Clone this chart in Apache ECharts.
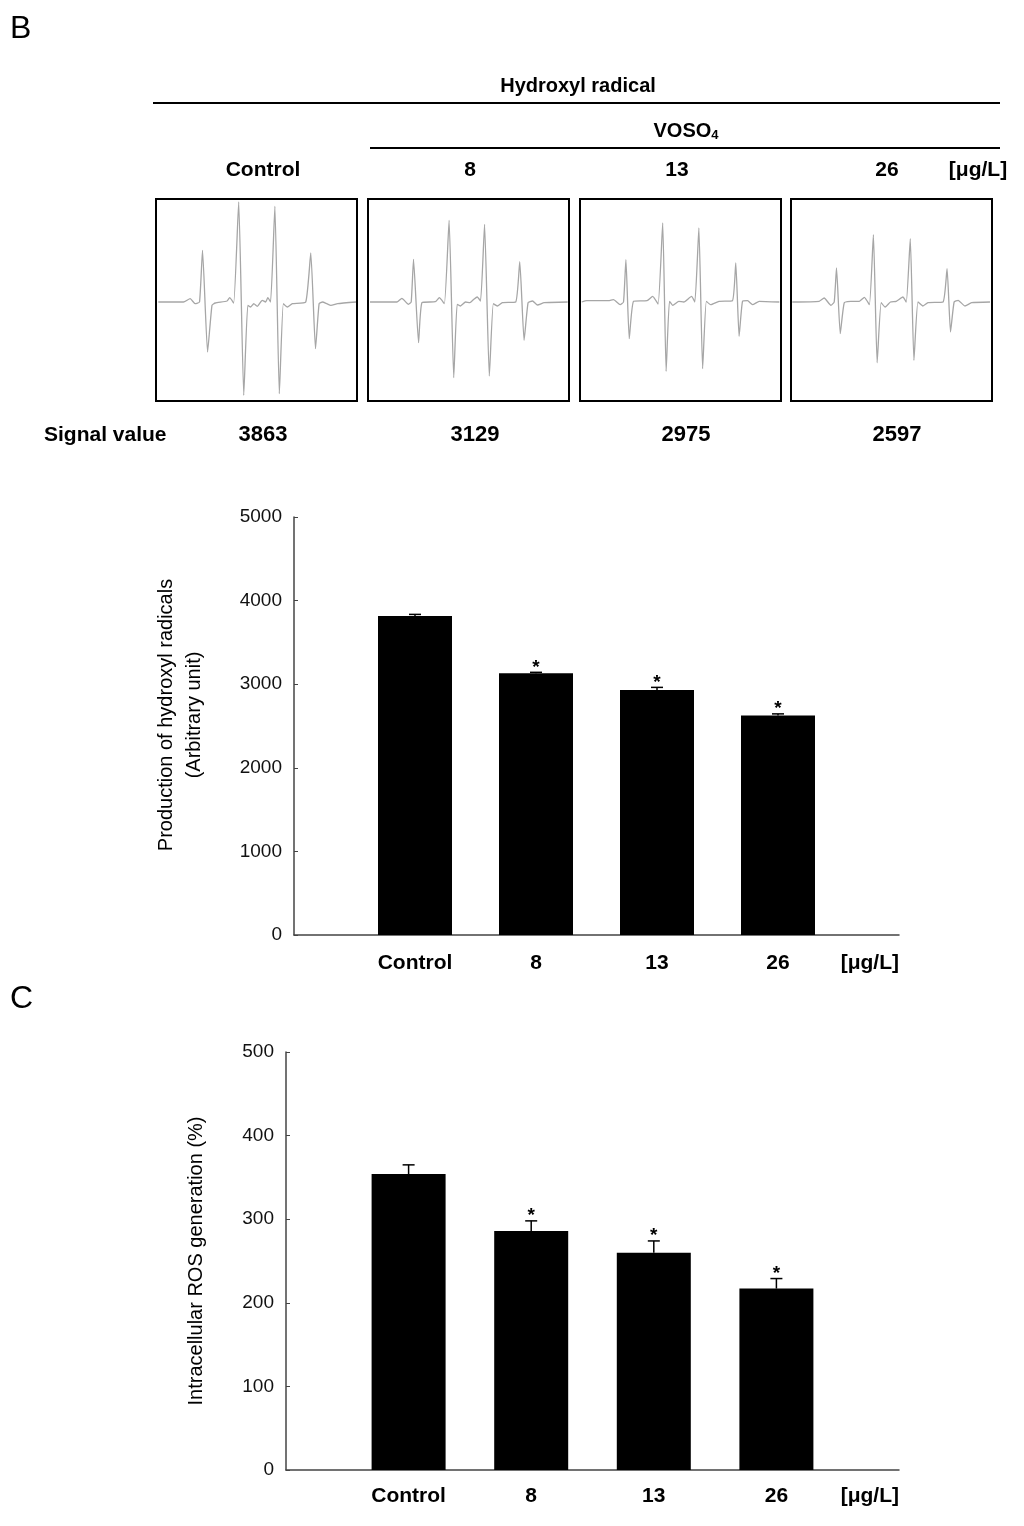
<!DOCTYPE html>
<html>
<head>
<meta charset="utf-8">
<script src="https://cdn.jsdelivr.net/npm/echarts@6/dist/echarts.min.js"></script>
<style>
html,body{margin:0;padding:0;background:#fff;}
#chart{width:1024px;height:1526px;}
</style>
</head>
<body>
<div id="chart"></div>
<script>
// ---------- data ----------
const categories = ['Control', '8', '13', '26'];
const unitLabel = '[μg/L]';
const signalValues = [3863, 3129, 2975, 2597];

const hydroxylMean = [3815, 3130, 2930, 2625];
const hydroxylErr = [20, 12, 32, 20];
const rosMean = [354, 286, 260, 217];
const rosErr = [11, 12, 14, 12];
const significant = [false, true, true, true];

// ESR spectra: [field position, relative intensity]
const spectrumControl = [
  [2.3,0],[27.3,0],[34,3.3],[39,-1.7],[43.3,0],[46.3,51.7],[51.3,-50],[55.7,-3.3],[59,-1],[70.7,1],[73.3,4.3],[77.3,-1],
  [82.3,100],[87.3,-93.3],[91.3,-3.3],[94,-5],[97.3,-1.7],[100.7,-4.3],[105.7,1.7],[109,0],[111.3,4.3],[114,0],
  [118.3,95.7],[122.7,-91.7],[126.7,-1.7],[130.7,-5],[135.7,-1.7],[149,0],[154,49],[158.7,-46.7],[162.3,-1.7],
  [165.7,0],[170,-1.7],[174,-3.3],[180.7,-1.7],[199,0]
];
const spectrum8 = [
  [2,0],[28.7,0],[33.7,3.7],[40.3,-2.3],[43,0],[45.3,42.7],[50.3,-40.7],[53.7,-0.7],[67,0.3],[71,4.3],[76,-1.7],
  [80.7,81.7],[85.3,-75.7],[88.7,-2.3],[92,-4],[97,0],[101.3,-0.7],[105.3,2.7],[108.7,5],[112,1],
  [116,77.7],[120.7,-74],[124.7,-1.7],[128.7,-4],[133.7,-0.7],[147,0],[151,40.3],[155.3,-38.3],[159.3,-0.7],
  [163.7,1],[168.7,-3],[175.3,-0.7],[198.7,0]
];
const spectrum13 = [
  [1.7,0],[6.7,1.3],[28.3,1.3],[33.3,2.3],[40,-2.7],[43.3,0],[45.7,42.3],[49,-36.7],[53.3,0.7],[66.7,1.3],[72.3,5.7],[77.7,-2],
  [82.3,79],[85.7,-69.3],[89,0.7],[92.3,-3.3],[98.3,0.7],[103.3,0],[111,5.7],[114.3,0],
  [118.3,74],[122,-66.7],[125.7,0.7],[130,-2.7],[138.3,0.7],[151.7,1.3],[155,39],[158.3,-34.3],[161.7,0.7],
  [166.7,1.3],[171.7,-2.7],[178.3,0.7],[198.3,0]
];
const spectrum26 = [
  [1.3,0],[28,0.7],[33,4],[39.7,-3.3],[43,0],[45.3,34],[49,-31.7],[53,-0.7],[59.7,0.7],[68,0.7],[73,4.7],[78,-2.7],
  [82,67.3],[85.7,-60.7],[89.7,-0.7],[93.7,-5],[99,0],[104.7,0.7],[111.3,5],[114.7,0],
  [118.7,63.3],[122.3,-58.3],[126.3,0],[131.3,-4],[136.3,-0.7],[151.3,0],[155.3,33.3],[158.7,-30],[162.3,0],
  [166.3,1.7],[173,-4],[179.7,-0.7],[198,0]
];
const spectra = [spectrumControl, spectrum8, spectrum13, spectrum26];

// ---------- layout ----------
const FONT = '"Liberation Sans", Arial, sans-serif';
const boxLeft = [156, 368, 580, 791];
const headerX = [263, 470, 677, 887];
const signalX = [263, 475, 686, 897];

const grids = [], xAxes = [], yAxes = [], series = [];

boxLeft.forEach((l, i) => {
  grids.push({left: l, top: 199, width: 201, height: 202, show: true,
    borderColor: '#000', borderWidth: 2, backgroundColor: 'transparent'});
  xAxes.push({type: 'value', gridIndex: i, min: 0, max: 200, show: false});
  yAxes.push({type: 'value', gridIndex: i, min: -99, max: 103, show: false});
  series.push({type: 'line', xAxisIndex: i, yAxisIndex: i, data: spectra[i], showSymbol: false,
    smooth: 0.15, lineStyle: {color: '#a6a6a6', width: 1.3}, silent: true, animation: false});
});

const axisCats = [''].concat(categories, [{value: unitLabel, textStyle: {align: 'right'}}]);

function barPanel(gi, grid, mean, err, yMax, yInt, yName, nameGap, namePad, labelMargin) {
  grids.push(grid);
  xAxes.push({type: 'category', gridIndex: gi, data: axisCats, boundaryGap: false,
    axisTick: {show: false},
    axisLine: {lineStyle: {color: '#444', width: 1.5}},
    axisLabel: {color: '#000', fontFamily: FONT, fontSize: 21, fontWeight: 'bold', margin: labelMargin, interval: 0}
  });
  yAxes.push({type: 'value', gridIndex: gi, min: 0, max: yMax, interval: yInt,
    axisLine: {show: true, lineStyle: {color: '#444', width: 1.5}},
    axisTick: {show: true, inside: true, length: 4, lineStyle: {color: '#444'}},
    splitLine: {show: false},
    axisLabel: {color: '#111', fontFamily: FONT, fontSize: 19, margin: 12, formatter: v => String(v)},
    name: yName, nameLocation: 'middle', nameGap: nameGap, nameRotate: 90,
    nameTextStyle: {color: '#000', fontFamily: FONT, fontSize: 20, lineHeight: 28, padding: namePad}
  });
  series.push({type: 'bar', xAxisIndex: gi, yAxisIndex: gi, barWidth: 74,
    data: [null].concat(mean, [null]), itemStyle: {color: '#000'}, animation: false});
  series.push({type: 'custom', xAxisIndex: gi, yAxisIndex: gi, animation: false, z: 5,
    data: mean.map((m, k) => [k + 1, m, err[k], significant[k] ? 1 : 0]),
    renderItem: function (params, api) {
      const x = api.value(0), m = api.value(1), e = api.value(2);
      const top = api.coord([x, m]);
      const cap = api.coord([x, m + e]);
      const children = [
        {type: 'line', shape: {x1: top[0], y1: top[1], x2: cap[0], y2: cap[1]}, style: {stroke: '#000', lineWidth: 1.5}},
        {type: 'line', shape: {x1: cap[0] - 6, y1: cap[1], x2: cap[0] + 6, y2: cap[1]}, style: {stroke: '#000', lineWidth: 1.5}}
      ];
      if (api.value(3)) {
        children.push({type: 'text', style: {text: '*', x: cap[0], y: cap[1] - 5, textAlign: 'center',
          textVerticalAlign: 'middle', font: 'bold 19px ' + FONT, fill: '#000'}});
      }
      return {type: 'group', children: children};
    }
  });
}

barPanel(4, {left: 294, right: 125, top: 517, bottom: 591}, hydroxylMean, hydroxylErr, 5000, 1000,
  'Production of hydroxyl radicals\n(Arbitrary unit)', 86, [0, 0, 0, 22], 18);
barPanel(5, {left: 286, right: 125, top: 1052, bottom: 56}, rosMean, rosErr, 500, 100,
  'Intracellular ROS generation (%)', 76, [0, 0, 0, 0], 16);

// ---------- header texts ----------
const graphic = [];
function txt(text, x, y, font, align) {
  graphic.push({type: 'text', x: x, y: y, style: {text: text, font: font, fill: '#000',
    textAlign: align || 'center', textVerticalAlign: 'middle'}});
}
txt('B', 10, 29, '32px ' + FONT, 'left');
txt('C', 10, 999, '32px ' + FONT, 'left');
txt('Hydroxyl radical', 578, 86, 'bold 20px ' + FONT);
graphic.push({type: 'line', shape: {x1: 153, y1: 103, x2: 1000, y2: 103}, style: {stroke: '#000', lineWidth: 2}});
graphic.push({type: 'text', x: 686, y: 131, style: {text: 'VOSO{sub|4}', font: 'bold 20px ' + FONT, fill: '#000',
  textAlign: 'center', textVerticalAlign: 'middle',
  rich: {sub: {font: 'bold 13px ' + FONT, fill: '#000', verticalAlign: 'bottom', padding: [8, 0, 0, 0]}}}});
graphic.push({type: 'line', shape: {x1: 370, y1: 148, x2: 1000, y2: 148}, style: {stroke: '#000', lineWidth: 2}});
categories.forEach((c, i) => txt(c, headerX[i], 170, 'bold 21px ' + FONT));
txt(unitLabel, 978, 170, 'bold 21px ' + FONT);
txt('Signal value', 44, 435, 'bold 21px ' + FONT, 'left');
signalValues.forEach((v, i) => txt(String(v), signalX[i], 435, 'bold 22px ' + FONT));

const chart = echarts.init(document.getElementById('chart'), null, {renderer: 'canvas'});
chart.setOption({
  animation: false,
  backgroundColor: '#fff',
  grid: grids, xAxis: xAxes, yAxis: yAxes, series: series, graphic: graphic
});
</script>
</body>
</html>
